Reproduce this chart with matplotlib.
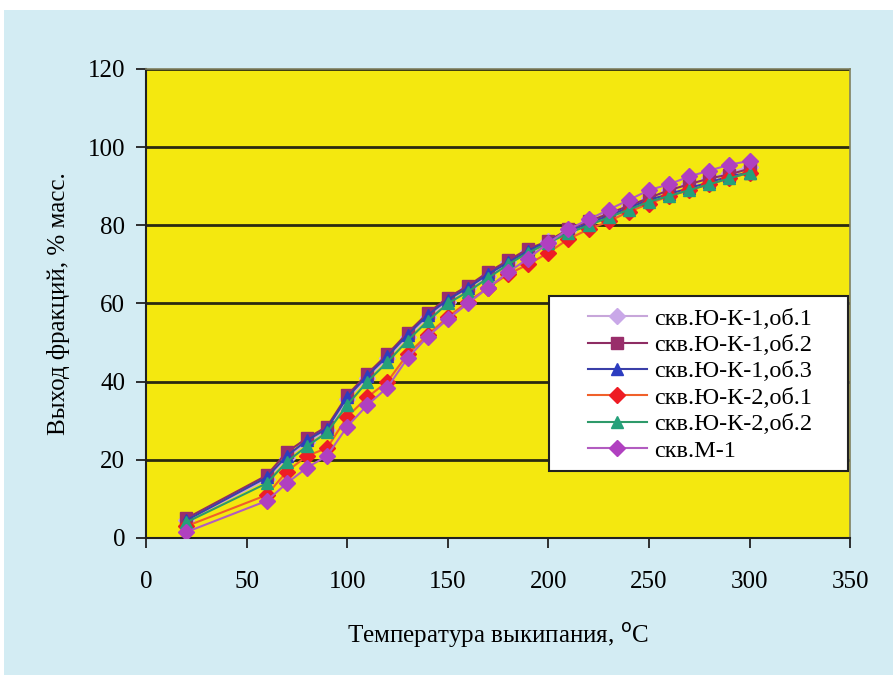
import numpy as np
import matplotlib.pyplot as plt
from matplotlib.patches import Rectangle

# ------------------------------------------
# Data
# ------------------------------------------
temps = [20, 60, 70, 80, 90, 100, 110, 120, 130, 140, 150, 160, 170,
         180, 190, 200, 210, 220, 230, 240, 250, 260, 270, 280, 290, 300]

uk1_ob1 = [4.5, 15, 20.5, 24.5, 27.5, 35.5, 41, 46, 51.5, 56.5, 60.5, 64, 67,
           70.5, 73.5, 76, 78.5, 81, 83, 85, 87, 89, 90.5, 92, 93.5, 95]
uk1_ob2 = [5, 16, 22, 25.5, 28.5, 36.5, 42, 47, 52.5, 57.5, 61.5, 64.5, 68,
           71, 74, 76, 79, 81, 83, 85, 87, 89, 90.5, 92, 93, 94.5]
uk1_ob3 = [4.5, 15.5, 21, 25, 28, 36, 41.5, 46.5, 52, 57, 61, 64, 67.5,
           70.5, 73.5, 76, 78.5, 80.5, 82.5, 84.5, 86.5, 88, 89.5, 91, 92.5, 93.5]
uk2_ob1 = [3, 11, 17, 21, 23, 31, 36, 40, 47, 52, 56.5, 60.5, 64,
           67.5, 70, 73, 76.5, 79, 81, 83.5, 85.5, 87.5, 89, 90.5, 92, 93.5]
uk2_ob2 = [4, 14, 19.5, 23.5, 27, 34, 40, 45, 50.5, 55.5, 60, 63, 66.5,
           70, 73, 75.5, 78, 80, 82, 84, 86, 87.5, 89, 90.5, 92, 93.5]
m1 = [1.5, 9.5, 14, 18, 21, 28.5, 34, 38.5, 46, 51.5, 56, 60, 64,
      68, 71.5, 75.5, 79, 81.5, 84, 86.5, 89, 90.5, 92.5, 94, 95.5, 96.5]

labels = ["скв.Ю-К-1,об.1", "скв.Ю-К-1,об.2", "скв.Ю-К-1,об.3",
          "скв.Ю-К-2,об.1", "скв.Ю-К-2,об.2", "скв.М-1"]
series = [uk1_ob1, uk1_ob2, uk1_ob3, uk2_ob1, uk2_ob2, m1]
line_colors = ["#C7A6DA", "#8E2D63", "#3A3FA8", "#F0602A", "#2E9A6A", "#B25CC0"]
marker_colors = ["#C9A8E8", "#992E6B", "#2C3CC0", "#EE1C24", "#25A07A", "#B040C0"]
markers = ["D", "s", "^", "D", "^", "D"]

# ------------------------------------------
# Plot
# ------------------------------------------
plt.rcParams['font.family'] = ['Liberation Serif', 'DejaVu Serif']

fig = plt.figure(figsize=(8.93, 6.75), dpi=100, facecolor='white')
fig.patches.append(Rectangle((0.004, 0), 0.996, 1 - 10 / 675,
                             transform=fig.transFigure, facecolor='#D3ECF3',
                             edgecolor='none', zorder=-10))

ax = fig.add_axes([0.1635, 0.203, 0.7885, 0.6948])
ax.set_facecolor('#F4E80F')

for y, lab, lc, mc, mk in zip(series, labels, line_colors, marker_colors, markers):
    ax.plot(temps, y, color=lc, lw=1.5, marker=mk, markersize=8.5 if mk == 's' else 8,
            markerfacecolor=mc, markeredgecolor=mc, label=lab, zorder=3)

ax.set_xlim(0, 350)
ax.set_ylim(0, 120)
ax.set_xticks(np.arange(0, 351, 50))
ax.set_yticks(np.arange(0, 121, 20))
ax.yaxis.grid(True, color='#2A2A10', lw=2)
ax.set_axisbelow(True)

for s in ['left', 'bottom']:
    ax.spines[s].set_color('#202020')
    ax.spines[s].set_linewidth(1.5)
for s in ['top', 'right']:
    ax.spines[s].set_color('#808060')
    ax.spines[s].set_linewidth(1.2)

ax.tick_params(axis='both', direction='out', length=7, width=1.3, color='#202020',
               labelsize=18)
ax.tick_params(axis='x', pad=17)
ax.tick_params(axis='y', pad=8)

ax.set_xlabel("Температура выкипания, $^{\\rm o}$C", fontsize=18, labelpad=20)
ax.set_ylabel("Выход фракций, % масс.", fontsize=18, labelpad=13)

# legend box (white, wide left margin as in the original)
ax.add_patch(Rectangle((0.5724, 0.1426), 0.4246, 0.3744, transform=ax.transAxes,
                       facecolor='white', edgecolor='#202020', lw=1.5, zorder=4))
leg = ax.legend(loc='upper left', bbox_to_anchor=(0.628, 0.491), fontsize=17.5,
                frameon=False, handlelength=2.4, borderpad=0, borderaxespad=0,
                labelspacing=0.18, handletextpad=0.3)
leg.set_zorder(5)

fig.savefig("out.png", dpi=100, facecolor=fig.get_facecolor())
